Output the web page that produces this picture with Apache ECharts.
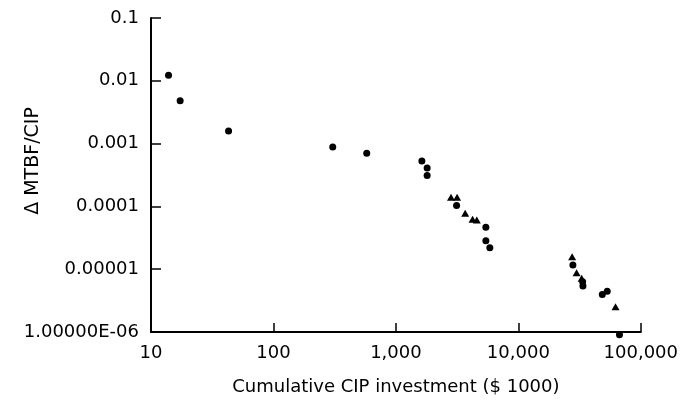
<!DOCTYPE html>
<html>
<head>
<meta charset="utf-8">
<script src="https://cdn.jsdelivr.net/npm/echarts@6/dist/echarts.min.js"></script>
<style>
html,body{margin:0;padding:0;background:#fff;}
#chart{width:681px;height:408px;}
</style>
</head>
<body>
<div id="chart"></div>
<script>
const xTickLabels = ['10', '100', '1,000', '10,000', '100,000'];
const yTickLabels = ['1.00000E-06', '0.00001', '0.0001', '0.001', '0.01', '0.1'];
const xAxisTitle = 'Cumulative CIP investment ($ 1000)';
const yAxisTitle = '\u0394 MTBF/CIP';

const circleX = [13.9, 17.3, 43, 305, 578, 1630, 1800, 1800, 3130, 5430, 5430, 5850, 27900, 33500, 33700, 48500, 53200, 67000];
const circleY = [0.0123, 0.0048, 0.00158, 0.00088, 0.0007, 0.00053, 0.00041, 0.00031, 0.000103, 0.0000464, 0.0000284, 0.000022, 0.0000117, 0.0000063, 0.0000054, 0.00000395, 0.00000445, 0.0000009];

const triangleX = [2820, 3160, 3680, 4230, 4580, 27500, 29900, 32900, 62200];
const triangleY = [0.00014, 0.00014, 0.0000776, 0.0000624, 0.0000607, 0.0000158, 0.0000088, 0.0000072, 0.00000253];

const font = 'DejaVu Sans';
const chart = echarts.init(document.getElementById('chart'), null, {renderer: 'canvas'});
chart.setOption({
  animation: false,
  backgroundColor: '#fff',
  grid: {left: 151, right: 39, top: 18, bottom: 76},
  xAxis: {
    type: 'log', logBase: 10, min: 10, max: 100000, splitNumber: 4,
    name: xAxisTitle, nameLocation: 'middle', nameGap: 46,
    nameTextStyle: {color: '#000', fontFamily: font, fontSize: 18},
    axisLine: {lineStyle: {color: '#000', width: 2}},
    axisTick: {inside: true, length: 9, lineStyle: {color: '#000', width: 1.5}},
    axisLabel: {
      color: '#000', fontFamily: font, fontSize: 18, margin: 12,
      formatter: v => xTickLabels[Math.round(Math.log10(v)) - 1]
    },
    splitLine: {show: false}, minorTick: {show: false}
  },
  yAxis: {
    type: 'log', logBase: 10, min: 0.000001, max: 0.1, splitNumber: 5,
    axisLine: {lineStyle: {color: '#000', width: 2}},
    axisTick: {inside: true, length: 10, lineStyle: {color: '#000', width: 1.5}},
    axisLabel: {
      color: '#000', fontFamily: font, fontSize: 18, margin: 12,
      formatter: v => yTickLabels[Math.round(Math.log10(v)) + 6]
    },
    splitLine: {show: false}
  },
  graphic: [{
    type: 'text', x: 33, y: 161, rotation: Math.PI / 2,
    style: {text: yAxisTitle, fill: '#000', font: '19px "DejaVu Sans"', textAlign: 'center', textVerticalAlign: 'middle'}
  }],
  series: [{
    type: 'scatter', name: 'circles', symbol: 'circle', symbolSize: 7, clip: false,
    itemStyle: {color: '#000', opacity: 1},
    data: circleX.map((x, i) => [x, circleY[i]])
  }, {
    type: 'scatter', name: 'triangles', symbol: 'triangle', symbolSize: [8, 7], clip: false,
    itemStyle: {color: '#000', opacity: 1},
    data: triangleX.map((x, i) => [x, triangleY[i]])
  }]
});
</script>
</body>
</html>
